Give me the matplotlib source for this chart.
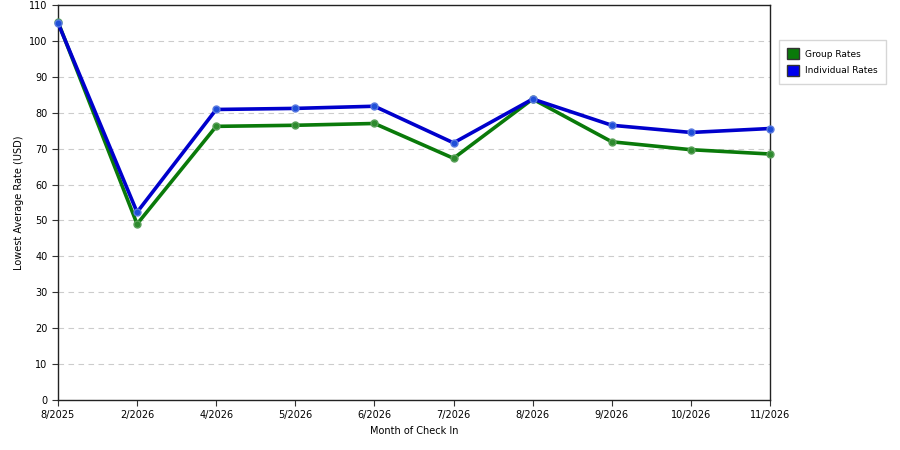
import matplotlib
matplotlib.use("Agg")
import matplotlib.pyplot as plt
from matplotlib.patches import Patch

months = ["8/2025", "2/2026", "4/2026", "5/2026", "6/2026", "7/2026",
          "8/2026", "9/2026", "10/2026", "11/2026"]
group_rates = [105.3, 49.0, 76.2, 76.5, 77.0, 67.3, 83.8, 71.9, 69.7, 68.5]
individual_rates = [105.0, 52.3, 80.9, 81.2, 81.8, 71.6, 83.8, 76.5, 74.5, 75.6]

plt.rcParams['font.family'] = ['DejaVu Sans']

fig = plt.figure(figsize=(9, 4.5), dpi=100)
ax = fig.add_axes([0.0644, 0.111, 0.7912, 0.878])

x = list(range(len(months)))
ax.plot(x, group_rates, color='#0a7a0a', lw=2.6, marker='o', ms=5,
        mfc='#2e8b2e', mec='#5aa05a', zorder=3, clip_on=False)
ax.plot(x, individual_rates, color='#0000cc', lw=2.6, marker='o', ms=5,
        mfc='#1f4fd8', mec='#5a7ae0', zorder=4, clip_on=False)

ax.set_xlim(0, len(months) - 1)
ax.set_ylim(0, 110)
ax.set_yticks(range(0, 111, 10))
ax.set_xticks(x)
ax.set_xticklabels(months)
ax.tick_params(labelsize=7, length=4, color='#333333')
ax.yaxis.grid(True, color='#cccccc', ls=(0, (5, 4)), lw=0.8)
for s in ax.spines.values():
    s.set_color('#222222')
    s.set_linewidth(1)

ax.set_xlabel("Month of Check In", fontsize=7)
ax.set_ylabel("Lowest Average Rate (USD)", fontsize=7)

handles = [Patch(facecolor='#0a7a0a', edgecolor='#333333', label='Group Rates'),
           Patch(facecolor='#0000ee', edgecolor='#333333', label='Individual Rates')]
fig.legend(handles=handles, loc='upper left', bbox_to_anchor=(0.8656, 0.911),
           borderaxespad=0, fontsize=6.5, frameon=True, fancybox=False,
           edgecolor='#cccccc', handlelength=1.3, handleheight=1.5,
           handletextpad=0.7, borderpad=0.9, labelspacing=0.6)

fig.savefig("out.png", dpi=100)
